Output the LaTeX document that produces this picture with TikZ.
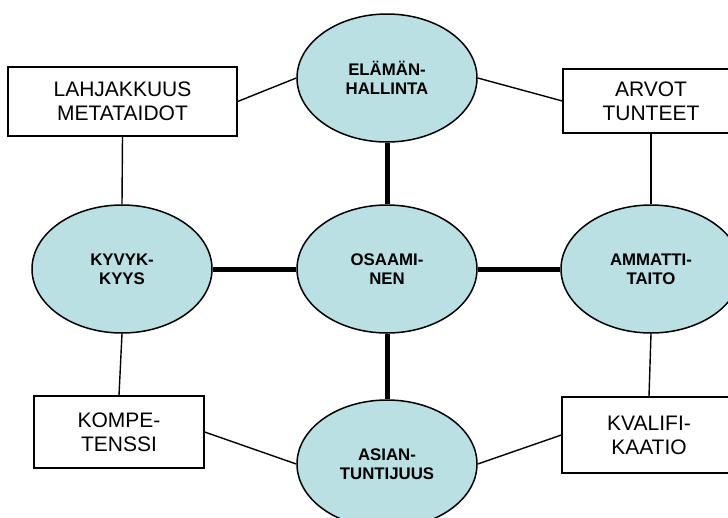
\documentclass[tikz,border=0pt]{standalone}
\usepackage{fontspec}
\setmainfont{Liberation Sans}
\usetikzlibrary{shapes.geometric}
\definecolor{ellfill}{RGB}{186,224,227}
\tikzset{
  ell/.style={ellipse, draw=black, line width=1.5pt, fill=ellfill, minimum width=180pt, minimum height=128pt, inner sep=0pt, align=center, font=\fontsize{16.8}{19}\selectfont\bfseries},
  bx/.style={rectangle, draw=black, line width=1.3pt, fill=white, inner sep=0pt, align=center, font=\fontsize{21}{24}\selectfont},
  thin/.style={line width=1.4pt},
  thick line/.style={line width=5pt}
}
\begin{document}
\begin{tikzpicture}[x=1pt,y=-1pt]
\useasboundingbox (0,0) rectangle (728,517);
\clip (0,0) rectangle (728,517);
\fill[white] (0,0) rectangle (728,517);
% ellipses
\node[ell] (top) at (387,78) {ELÄMÄN-\\HALLINTA};
\node[ell] (mid) at (387,269) {OSAAMI-\\NEN};
\node[ell] (kyv) at (122,269) {KYVYK-\\KYYS};
\node[ell] (amm) at (651,269) {AMMATTI-\\TAITO};
\node[ell] (bot) at (387,464) {ASIAN-\\TUNTIJUUS};
% boxes
\node[bx, minimum width=229pt, minimum height=69pt] (lahja) at (122.5,101.5) {LAHJAKKUUS\\METATAIDOT};
\node[bx, minimum width=176pt, minimum height=64pt] (arvot) at (651,101) {ARVOT\\TUNTEET};
\node[bx, minimum width=170pt, minimum height=72pt] (kompe) at (119,432) {KOMPE-\\TENSSI};
\node[bx, minimum width=174pt, minimum height=76pt] (kvali) at (649,435) {KVALIFI-\\KAATIO};
% thick connectors
\draw[thick line] (top.south) -- (mid.north);
\draw[thick line] (mid.south) -- (bot.north);
\draw[thick line] (kyv.east) -- (mid.west);
\draw[thick line] (mid.east) -- (amm.west);
% thin connectors
\draw[thin] (lahja.east) -- (top.west);
\draw[thin] (arvot.west) -- (top.east);
\draw[thin] (lahja.south) -- (kyv.north);
\draw[thin] (arvot.south) -- (amm.north);
\draw[thin] (kompe.north) -- (kyv.south);
\draw[thin] (kvali.north) -- (amm.south);
\draw[thin] (kompe.east) -- (bot.west);
\draw[thin] (kvali.west) -- (bot.east);
\end{tikzpicture}
\end{document}
